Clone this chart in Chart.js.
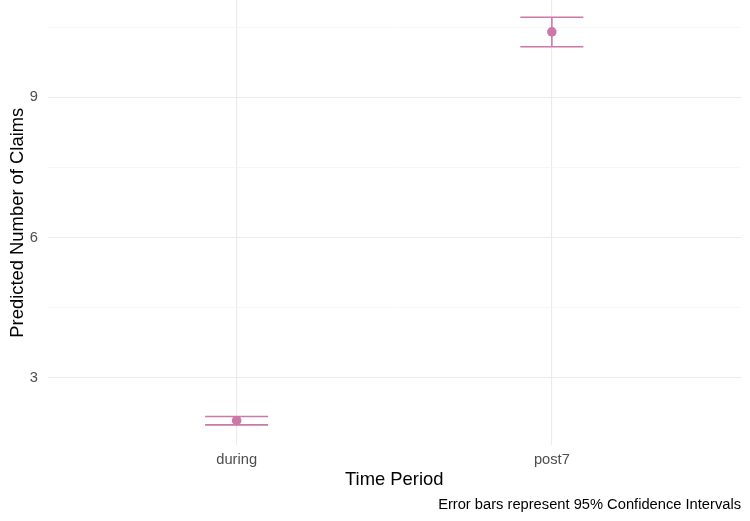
<!DOCTYPE html>
<html>
<head>
<meta charset="utf-8">
<title>Predicted Number of Claims</title>
<script src="https://cdn.jsdelivr.net/npm/chart.js@4.4.1/dist/chart.umd.min.js"></script>
<style>
    body { margin: 0; background: #ffffff; }
    #wrap { width: 750px; height: 521px; }
</style>
</head>
<body>
<div id="wrap"><canvas id="claimsChart" width="750" height="521"></canvas></div>
<script>
// Data
const periods = ['during', 'post7'];
const predicted = [2.08, 10.40];
const lowerCI = [1.99, 10.08];
const upperCI = [2.17, 10.71];
const yMajorTicks = [3, 6, 9];
const yMinorTicks = [4.5, 7.5, 10.5];

const pink = '#CC79A7';
const fontFamily = '"Liberation Sans", Arial, sans-serif';

// Error bars with caps, drawn through the chart's scales
const errorBarPlugin = {
    id: 'errorBars',
    beforeDatasetsDraw(chart) {
        const ctx = chart.ctx;
        const x = chart.scales.x;
        const y = chart.scales.y;
        const capHalf = 0.1;
        ctx.save();
        ctx.strokeStyle = pink;
        ctx.lineWidth = 1.6;
        periods.forEach((p, i) => {
            const cx = x.getPixelForValue(i + 1);
            const left = x.getPixelForValue(i + 1 - capHalf);
            const right = x.getPixelForValue(i + 1 + capHalf);
            const top = y.getPixelForValue(upperCI[i]);
            const bottom = y.getPixelForValue(lowerCI[i]);
            ctx.beginPath();
            ctx.moveTo(cx, top);
            ctx.lineTo(cx, bottom);
            ctx.moveTo(left, top);
            ctx.lineTo(right, top);
            ctx.moveTo(left, bottom);
            ctx.lineTo(right, bottom);
            ctx.stroke();
        });
        ctx.restore();
    }
};

new Chart(document.getElementById('claimsChart'), {
    type: 'scatter',
    data: {
        datasets: [{
            label: 'Predicted',
            data: predicted.map((v, i) => ({ x: i + 1, y: v })),
            backgroundColor: pink,
            borderColor: pink,
            pointRadius: 4.8,
            pointHoverRadius: 4.8,
            borderWidth: 0
        }]
    },
    options: {
        responsive: false,
        animation: false,
        layout: { autoPadding: false, padding: { left: 0, top: 0, right: 9, bottom: 0 } },
        plugins: {
            legend: { display: false },
            tooltip: { enabled: false },
            subtitle: {
                display: true,
                position: 'bottom',
                align: 'end',
                text: 'Error bars represent 95% Confidence Intervals',
                color: '#000000',
                font: { family: fontFamily, size: 14.7, lineHeight: 1.2 },
                padding: { top: 0, bottom: 7.6 }
            }
        },
        scales: {
            x: {
                type: 'linear',
                min: 0.4,
                max: 2.6,
                afterBuildTicks: (scale) => {
                    scale.ticks = periods.map((p, i) => ({ value: i + 1 }));
                },
                afterFit: (scale) => {
                    scale.height = 50.3;
                    scale.paddingLeft = 0;
                    scale.paddingRight = 0;
                },
                border: { display: false },
                grid: { color: '#EBEBEB', lineWidth: 1.1, drawTicks: false },
                ticks: {
                    padding: 5.5,
                    color: '#4D4D4D',
                    font: { family: fontFamily, size: 14.7 },
                    callback: (v) => periods[v - 1]
                },
                title: {
                    display: true,
                    text: 'Time Period',
                    color: '#000000',
                    font: { family: fontFamily, size: 18.4, lineHeight: 1.2 },
                    padding: { top: 0, bottom: 5.2 }
                }
            },
            y: {
                min: 1.55,
                max: 11.08,
                afterBuildTicks: (scale) => {
                    scale.ticks = yMajorTicks.concat(yMinorTicks)
                        .sort((a, b) => a - b)
                        .map(v => ({ value: v }));
                },
                afterFit: (scale) => {
                    scale.width = 47.5;
                    scale.paddingTop = 0;
                    scale.paddingBottom = 0;
                },
                border: { display: false },
                grid: {
                    drawTicks: false,
                    color: (c) => yMajorTicks.includes(c.tick.value) ? '#EBEBEB' : '#F4F4F4',
                    lineWidth: (c) => yMajorTicks.includes(c.tick.value) ? 1.1 : 0.8
                },
                ticks: {
                    padding: 9.5,
                    color: '#4D4D4D',
                    font: { family: fontFamily, size: 14.7 },
                    callback: (v) => yMajorTicks.includes(v) ? String(v) : ''
                },
                title: {
                    display: true,
                    text: 'Predicted Number of Claims',
                    color: '#000000',
                    font: { family: fontFamily, size: 18.4, lineHeight: 1.2 },
                    padding: { top: 6.5, bottom: 0 }
                }
            }
        }
    },
    plugins: [errorBarPlugin]
});
</script>
</body>
</html>
